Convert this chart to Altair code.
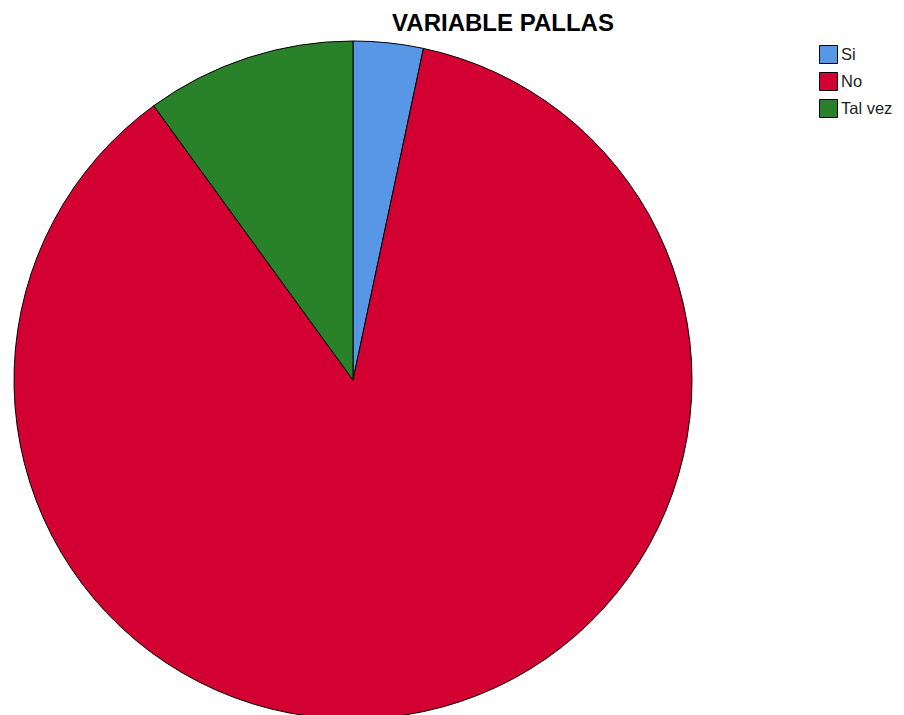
import altair as alt
import pandas as pd

categories = ["Si", "No", "Tal vez"]
counts = [1, 26, 3]
colors = ["#5896e6", "#d30032", "#298229"]
title_text = "VARIABLE PALLAS"

df = pd.DataFrame({
    "categoria": categories,
    "frecuencia": counts,
    "orden": list(range(len(categories))),
})
title_df = pd.DataFrame({"t": [title_text]})

pie = alt.Chart(df).mark_arc(
    x=345, y=372, outerRadius=339, stroke="black", strokeWidth=1
).encode(
    theta=alt.Theta("frecuencia:Q", stack=True),
    order=alt.Order("orden:Q"),
    color=alt.Color(
        "categoria:N",
        sort=categories,
        scale=alt.Scale(domain=categories, range=colors),
        legend=alt.Legend(
            title=None, orient="none", legendX=811, legendY=37,
            symbolType="square", symbolSize=324,
            symbolStrokeColor="black", symbolStrokeWidth=1, symbolOpacity=1,
            labelFontSize=16.5, labelFont="Liberation Sans", labelColor="#222222",
            labelOffset=3, rowPadding=4, padding=0, labelLimit=200,
        ),
    ),
)

title = alt.Chart(title_df).mark_text(
    font="Liberation Sans", fontSize=24, fontWeight="bold", color="black",
    baseline="alphabetic", align="center"
).encode(x=alt.value(495), y=alt.value(23), text="t:N")

chart = alt.layer(pie, title).properties(
    width=888, height=720, autosize="none", padding=0
).configure_view(stroke=None)

chart.save("out.html", embed_options={"renderer": "svg", "actions": False})
